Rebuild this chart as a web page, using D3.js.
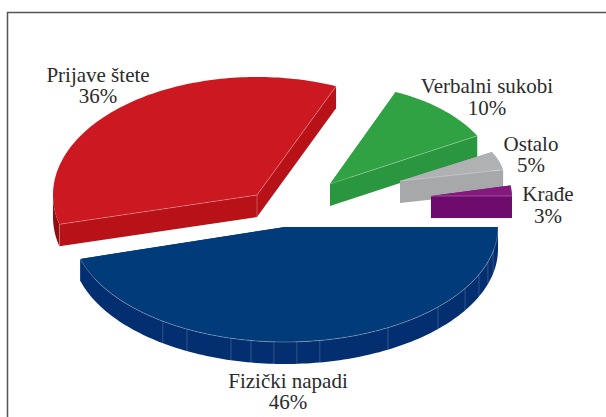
<!DOCTYPE html>
<html>
<head>
<meta charset="utf-8">
<script src="https://cdnjs.cloudflare.com/ajax/libs/d3/7.8.5/d3.min.js"></script>
<style>
    html, body { margin: 0; padding: 0; background: #fff; overflow: hidden; }
    svg { display: block; }
    text { font-family: "Liberation Serif", serif; font-size: 21px; fill: #2b2b2b; text-anchor: middle; }
</style>
</head>
<body>
<svg></svg>
<script>
// chart values
var categories = ["Fizički napadi", "Prijave štete", "Verbalni sukobi", "Ostalo", "Krađe"];
var percents = [46, 36, 10, 5, 3];

// colours, same order as categories
var topColors = ["#023b7a", "#cc1820", "#30a244", "#b0b1b3", "#85187d"];
var wallColors = ["#032f70", "#b81118", "#2a9640", "#a7a8aa", "#6e0c6e"];
var arcWallColors = ["#032f70", "#8f0d12", "#2a9640", "#a7a8aa", "#6e0c6e"];

// every slice is pulled out and scaled on its own in the reference
var apexX = [285, 257, 330, 400, 431],
    apexY = [227, 195, 184, 181, 196],
    radiusX = [213, 204, 168, 105, 81],
    radiusY = [115, 118, 100, 60, 56];

// the original's edges sit a little off the true pie angles (degrees)
var startNudge = [0, 0, -2.2, 0, 0],
    endNudge = [-1.7, -2.4, 0, 0, 0];

// label anchors: name baseline, percent baseline
var labelX = [288, 98, 487, 531, 548],
    labelY1 = [388, 82, 93, 151, 201],
    labelY2 = [409, 103, 115, 172, 223];

// seams on the blue rim, degrees clockwise from 12 o'clock
var facetAngles = [102.3, 107.7, 114.4, 122.3, 134.1, 151.1, 170.6, 176.8, 183, 189.2, 194.7, 207.4, 215];

var width = 606, height = 417, depth = 22;

var svg = d3.select("svg")
    .attr("width", width)
    .attr("height", height);

// frame, open to the right and bottom
svg.append("path")
    .attr("d", "M7.5," + height + "V12.5H" + width)
    .attr("fill", "none")
    .attr("stroke", "#555")
    .attr("stroke-width", 1.5);

var pie = d3.pie()
    .sort(null)
    .startAngle(Math.PI / 2)
    .endAngle(Math.PI / 2 + 2 * Math.PI);

var slices = pie(percents).map(function (d, i) {
    d.startAngle += startNudge[i] * Math.PI / 180;
    d.endAngle += endNudge[i] * Math.PI / 180;
    return d;
});
var line = d3.line();

function scaleFor(i) {
    return {
        x: d3.scaleLinear().domain([0, 1]).range([apexX[i], apexX[i] + radiusX[i]]),
        y: d3.scaleLinear().domain([0, 1]).range([apexY[i], apexY[i] + radiusY[i]])
    };
}

function rim(i, a0, a1, drop) {
    var s = scaleFor(i);
    var n = Math.max(2, Math.ceil((a1 - a0) / 0.02));
    return d3.range(n + 1).map(function (k) {
        var a = a0 + (a1 - a0) * k / n;
        return [s.x(Math.sin(a)), s.y(-Math.cos(a)) + drop];
    });
}

// draw back to front: blue goes last, purple over grey
var order = [1, 2, 3, 4, 0];

order.forEach(function (i) {
    var d = slices[i];
    var apex = [apexX[i], apexY[i]];
    var g = svg.append("g").attr("class", "slice");

    // radial walls
    [d.startAngle, d.endAngle].forEach(function (a) {
        var end = rim(i, a, a, 0)[0];
        g.append("path")
            .attr("d", line([apex, end, [end[0], end[1] + depth], [apex[0], apex[1] + depth]]) + "Z")
            .attr("fill", wallColors[i]);
    });

    // outer wall, only the part that faces the viewer
    var a0 = Math.max(d.startAngle, Math.PI / 2),
        a1 = Math.min(d.endAngle, Math.PI * 1.5);
    if (a1 > a0) {
        var low = rim(i, a0, a1, depth).reverse();
        g.append("path")
            .attr("d", line(rim(i, a0, a1, 0).concat(low)) + "Z")
            .attr("fill", arcWallColors[i]);
    }

    // top face
    g.append("path")
        .attr("d", line([apex].concat(rim(i, d.startAngle, d.endAngle, 0))) + "Z")
        .attr("fill", topColors[i]);
});

// thin light edges where the faces meet
function edge(points, opacity) {
    svg.append("path")
        .attr("d", line(points))
        .attr("fill", "none")
        .attr("stroke", "#fff")
        .attr("stroke-width", 0.6)
        .attr("stroke-opacity", opacity);
}

function radialEnd(i, a) {
    return rim(i, a, a, 0)[0];
}

var blue = slices[0], red = slices[1], green = slices[2], grey = slices[3], purple = slices[4];

edge(rim(0, blue.startAngle, blue.endAngle, 0), 0.45);
facetAngles.forEach(function (deg) {
    var a = deg * Math.PI / 180;
    var p = radialEnd(0, a);
    edge([p, [p[0], p[1] + depth]], 0.3);
});

var redLeft = radialEnd(1, red.startAngle);
edge([[apexX[1], apexY[1]], redLeft], 0.45);
edge([[apexX[1], apexY[1]], radialEnd(1, red.endAngle)], 0.45);
edge([[apexX[1], apexY[1]], [apexX[1], apexY[1] + depth]], 0.45);
edge([redLeft, [redLeft[0], redLeft[1] + depth]], 0.35);
edge([[apexX[2], apexY[2]], radialEnd(2, green.endAngle)], 0.45);
edge([[apexX[3], apexY[3]], radialEnd(3, grey.endAngle)], 0.45);
edge([[apexX[4], apexY[4]], radialEnd(4, purple.endAngle)], 0.45);

// labels
categories.forEach(function (name, i) {
    svg.append("text").attr("x", labelX[i]).attr("y", labelY1[i]).text(name);
    svg.append("text").attr("x", labelX[i]).attr("y", labelY2[i]).text(percents[i] + "%");
});
</script>
</body>
</html>
